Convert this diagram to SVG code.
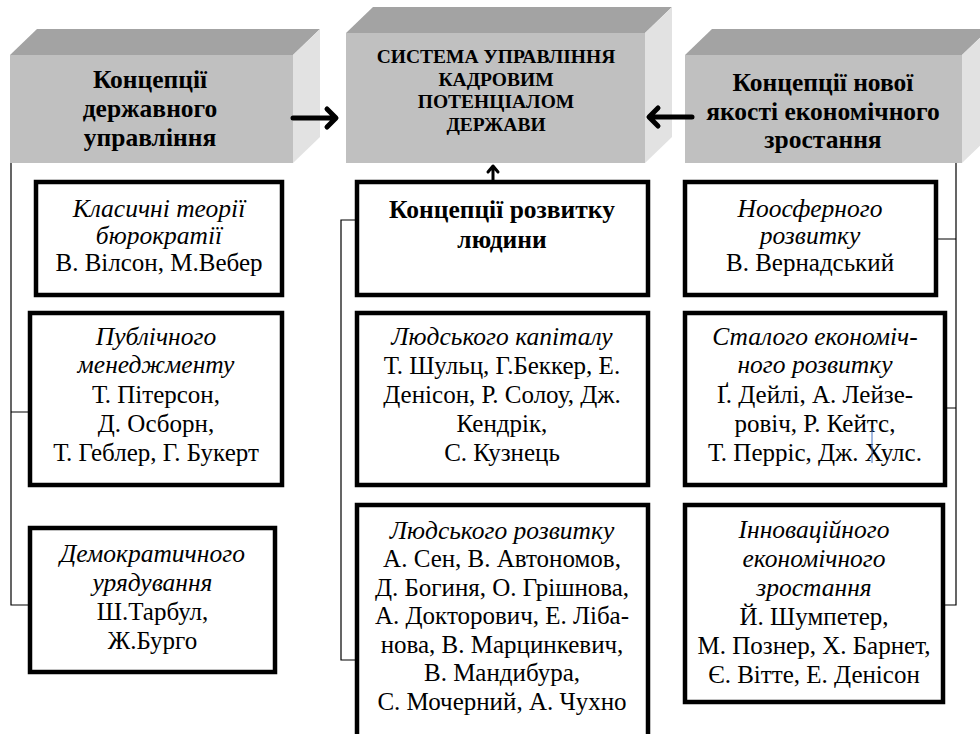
<svg xmlns="http://www.w3.org/2000/svg" width="980" height="734" viewBox="0 0 980 734">
<style>
.front{fill:#c0c0c0}
.top{fill:#a3a3a3}
.side{fill:#e2e2e2}
.box{fill:#fff;stroke:#000;stroke-width:4.5}
.br{fill:none;stroke:#000;stroke-width:1.2}
.arr{fill:none;stroke:#000;stroke-linecap:round;stroke-linejoin:round}
.h{font-weight:bold;font-size:25.5px}
.hc{font-weight:bold;font-size:19.5px}
.i{font-style:italic;font-size:25.5px}
.n{font-size:25px}
</style>
<rect width="980" height="734" fill="#fff"/>

<g font-family="'Liberation Serif', 'DejaVu Serif', serif" text-anchor="middle" fill="#000">
<g id="node-left-header">
<polygon class="top" points="10,55 37,29 320,29 293,55"/>
<polygon class="side" points="293,55 320,29 320,137 293,163"/>
<rect class="front" x="10" y="55" width="283" height="108"/>
<text class="h" x="150" y="88">Концепції</text>
<text class="h" x="150" y="117">державного</text>
<text class="h" x="150" y="146">управління</text>
</g>

<g id="node-center-header">
<polygon class="top" points="346,33 373,7 672,7 645,33"/>
<polygon class="side" points="645,33 672,7 672,137 645,163"/>
<rect class="front" x="346" y="33" width="299" height="130"/>
<text class="hc" x="496" y="63">СИСТЕМА УПРАВЛІННЯ</text>
<text class="hc" x="496" y="85.5">КАДРОВИМ</text>
<text class="hc" x="496" y="108">ПОТЕНЦІАЛОМ</text>
<text class="hc" x="496" y="130.5">ДЕРЖАВИ</text>
</g>

<g id="node-right-header">
<polygon class="top" points="685,55 712,29 989,29 962,55"/>
<polygon class="side" points="962,55 989,29 989,137 962,163"/>
<rect class="front" x="685" y="55" width="277" height="108"/>
<text class="h" x="823" y="91">Концепції нової</text>
<text class="h" x="823" y="120">якості економічного</text>
<text class="h" x="823" y="148">зростання</text>
</g>

<g id="node-l1">
<rect class="box" x="36" y="182" width="246" height="113"/>
<text class="i" x="159" y="217">Класичні теорії</text>
<text class="i" x="159" y="244">бюрократії</text>
<text class="n" x="159" y="271">В. Вілсон, М.Вебер</text>
</g>

<g id="node-l2">
<rect class="box" x="30" y="313" width="252" height="172"/>
<text class="i" x="156" y="345">Публічного</text>
<text class="i" x="156" y="373">менеджменту</text>
<text class="n" x="156" y="403">Т. Пітерсон,</text>
<text class="n" x="156" y="432">Д. Осборн,</text>
<text class="n" x="156" y="461">Т. Геблер, Г. Букерт</text>
</g>

<g id="node-l3">
<rect class="box" x="30" y="528" width="245" height="144"/>
<text class="i" x="152.5" y="562">Демократичного</text>
<text class="i" x="152.5" y="591">урядування</text>
<text class="n" x="152.5" y="620">Ш.Тарбул,</text>
<text class="n" x="152.5" y="649">Ж.Бурго</text>
</g>

<g id="node-c1">
<rect class="box" x="357" y="182" width="291" height="113"/>
<text class="h" x="502" y="218">Концепції розвитку</text>
<text class="h" x="502" y="248">людини</text>
</g>

<g id="node-c2">
<rect class="box" x="357" y="313" width="291" height="172"/>
<text class="i" x="502" y="345">Людського капіталу</text>
<text class="n" x="502" y="374">Т. Шульц, Г.Беккер, Е.</text>
<text class="n" x="502" y="403">Денісон, Р. Солоу, Дж.</text>
<text class="n" x="502" y="432">Кендрік,</text>
<text class="n" x="502" y="461">С. Кузнець</text>
</g>

<g id="node-c3">
<rect class="box" x="357" y="505" width="291" height="236"/>
<text class="i" x="502" y="539">Людського розвитку</text>
<text class="n" x="502" y="567">А. Сен, В. Автономов,</text>
<text class="n" x="502" y="596">Д. Богиня, О. Грішнова,</text>
<text class="n" x="502" y="624">А. Докторович, Е. Ліба-</text>
<text class="n" x="502" y="653">нова, В. Марцинкевич,</text>
<text class="n" x="502" y="681">В. Мандибура,</text>
<text class="n" x="502" y="710">С. Мочерний, А. Чухно</text>
</g>

<g id="node-r1">
<rect class="box" x="685" y="182" width="251" height="113"/>
<text class="i" x="810" y="217">Ноосферного</text>
<text class="i" x="810" y="244">розвитку</text>
<text class="n" x="810" y="271">В. Вернадський</text>
</g>

<g id="node-r2">
<rect class="box" x="685" y="313" width="260" height="172"/>
<text class="i" x="815" y="345">Сталого економіч-</text>
<text class="i" x="815" y="373">ного розвитку</text>
<text class="n" x="815" y="403">Ґ. Дейлі, А. Лейзе-</text>
<text class="n" x="815" y="432">ровіч, Р. Кейтс,</text>
<text class="n" x="815" y="461">Т. Перріс, Дж. Хулс.</text>
</g>

<g id="node-r3">
<rect class="box" x="685" y="505" width="258" height="197"/>
<text class="i" x="814" y="538">Інноваційного</text>
<text class="i" x="814" y="567">економічного</text>
<text class="i" x="814" y="596">зростання</text>
<text class="n" x="814" y="625">Й. Шумпетер,</text>
<text class="n" x="814" y="654">М. Познер, Х. Барнет,</text>
<text class="n" x="814" y="683">Є. Вітте, Е. Денісон</text>
</g>
</g>

<g id="connectors">
<path class="br" d="M11,163 V605 H30 M11,412 H30"/>
<path class="br" d="M355,220 H341 V660 H355"/>
<path class="br" d="M956,163 V605 H945 M938,239 H956 M947,408 H956"/>
<path class="arr" stroke-width="5" d="M293,118 H335 M327,109 L336,118 L327,127"/>
<path class="arr" stroke-width="5" d="M692,117 H650 M658,108 L649,117 L658,126"/>
<path class="arr" stroke-width="3" d="M493,180 V167 M488,172 L493,166 L498,172"/>
<line x1="872" y1="428" x2="872" y2="463" stroke="#4472c4" stroke-width="1"/>
</g>
</svg>
